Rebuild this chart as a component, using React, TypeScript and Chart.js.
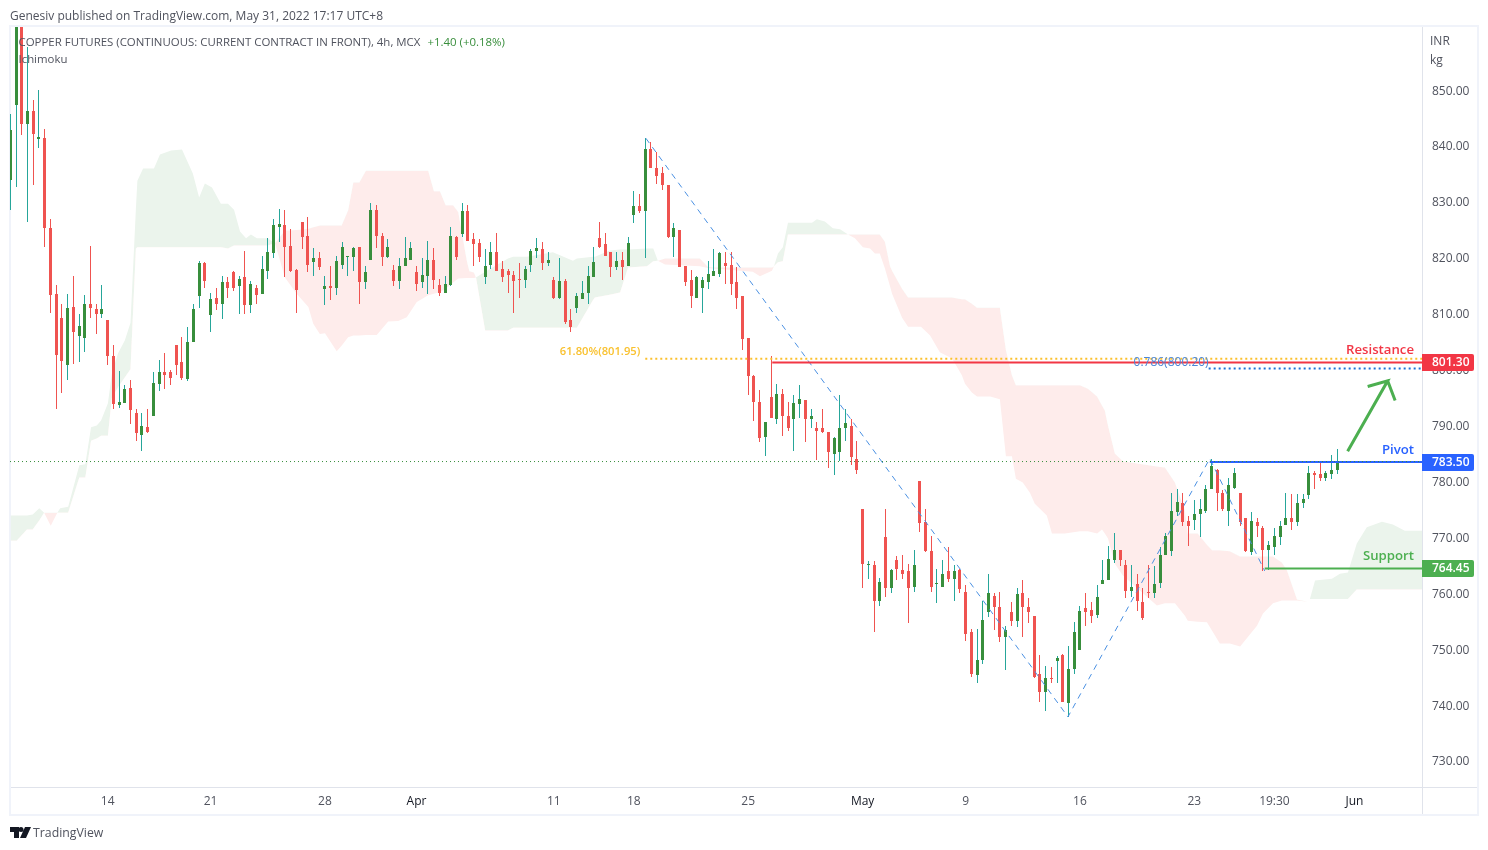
import { useEffect, useRef } from "react";
import { Chart, registerables } from "chart.js";

Chart.register(...registerables);

const FONT = '"Open Sans", sans-serif';

const opens = [
  834.0,847.4,866,843.9,846.2,841.2,841.5,825.4,813.5,809.3,
  800.9,811.3,806.1,805.6,811.8,810.9,809.9,808.8,802.5,793.6,
  794.1,796.8,792.3,788.4,789.8,791.8,797.5,799.5,799.5,804.5,
  801.3,798.4,804.9,813.1,819.0,809.7,812.9,811.8,815.6,817.4,
  814.9,816.5,811.5,814.7,813.6,817.7,820.8,825.6,825.8,822.2,
  817.9,826.5,824.0,819.2,819.9,814.5,814.9,814.7,818.8,820.1,
  820.1,821.9,815.6,819.7,828.5,824.0,820.1,817.9,815.8,818.5,
  819.7,817.4,815.6,816.8,819.7,815.1,813.8,815.2,823.8,824.2,
  828.3,823.3,822.6,816.5,818.8,821.1,818.1,817.6,817.0,816.3,
  816.1,818.8,821.3,821.5,819.0,816.0,812.9,815.8,808.8,811.1,
  812.7,813.8,816.5,823.5,822.4,821.0,818.3,819.7,818.5,827.6,
  829.2,828.3,839.4,836.0,835.1,833.1,823.8,824.9,818.5,816.0,
  812.9,814.7,815.6,816.8,817.2,819.0,818.8,815.6,813.1,805.6,
  798.8,794.3,787.9,795.2,791.1,795.7,791.8,791.1,793.8,794.5,
  791.1,789.6,789.5,788.8,785.0,785.2,789.5,790.0,784.1,775.0,
  765.1,765.0,758.7,770.0,760.9,765.9,764.1,763.9,761.2,780.0,
  772.7,767.5,761.8,761.2,763.9,762.6,764.1,760.3,753.0,745.3,
  748.0,756.6,759.6,757.6,752.1,756.6,755.1,760.1,757.6,756.0,
  745.6,742.4,744.9,747.8,748.9,740.3,746.4,749.9,757.3,757.1,
  756.2,761.7,762.3,766.0,767.7,765.1,760.5,761.6,758.5,760.3,
  760.1,761.9,766.8,767.5,774.6,776.2,773.0,773.2,774.1,774.8,
  778.6,782.1,778.0,774.8,778.9,778.0,773.4,767.3,772.8,771.6,
  767.8,768.2,770.0,772.3,773.4,772.8,776.2,777.5,781.6,781.3,
  780.7,781.3,782.0,
];
const highs = [
  845.7,870,872,857.8,848.2,850.0,843.0,826.9,815.2,811.8,
  813.6,816.7,809.9,813.3,822.2,811.8,815.2,808.8,804.5,799.7,
  797.2,798.2,793.0,792.3,792.9,799.5,801.8,802.9,799.9,804.5,
  805.8,807.7,811.8,819.4,819.2,813.8,814.7,816.8,816.5,817.7,
  816.8,821.3,815.9,815.2,820.4,823.6,826.9,828.7,828.5,825.1,
  818.1,826.5,827.4,821.7,821.0,816.8,818.6,820.4,822.9,820.4,
  822.0,821.9,818.5,829.9,829.4,824.5,823.3,818.8,819.9,823.8,
  822.8,818.5,819.9,823.1,821.7,816.3,816.7,825.6,824.0,829.9,
  829.4,824.5,823.3,821.5,822.9,824.4,819.4,818.1,817.6,819.0,
  818.5,821.5,823.6,822.8,821.0,816.5,819.9,816.3,810.8,813.8,
  815.9,818.5,822.0,826.5,824.5,821.1,821.1,821.0,823.8,831.9,
  831.5,841.4,840.8,839.0,836.3,833.1,826.3,824.9,818.5,817.9,
  816.7,816.5,819.4,821.5,821.0,821.0,821.0,818.3,813.1,805.6,
  799.0,796.3,790.7,802.4,797.4,796.6,794.3,795.4,797.2,794.5,
  792.9,790.7,792.9,788.8,787.9,795.4,793.0,791.1,787.2,775.0,
  765.7,765.7,762.8,775.0,764.4,766.6,766.9,765.3,767.8,780.0,
  775.0,770.3,764.4,765.9,768.2,765.0,764.3,761.4,753.7,753.7,
  758.7,763.5,760.1,760.3,754.2,758.5,761.0,762.3,759.2,756.0,
  748.9,747.0,746.9,748.7,749.2,750.5,754.8,757.8,760.0,758.4,
  761.4,765.9,768.4,770.7,767.8,765.9,765.0,763.4,761.0,765.0,
  764.8,768.2,770.7,778.0,778.6,777.9,773.9,776.6,776.8,779.3,
  784.1,782.3,778.4,780.7,782.5,778.0,773.4,774.6,773.4,772.1,
  769.4,771.6,773.0,777.9,777.7,777.7,777.7,782.7,781.8,783.4,
  781.8,784.8,785.9,
];
const lows = [
  828.5,832.6,841.9,826.5,833.0,839.6,821.9,810.2,792.9,795.9,
  798.2,801.1,801.3,803.1,809.3,806.3,809.2,800.9,792.9,793.2,
  794.1,790.2,787.3,785.5,788.6,791.8,796.1,796.5,797.2,799.1,
  798.2,797.9,804.9,811.1,814.7,806.8,810.6,809.0,812.9,814.0,
  809.9,809.9,810.2,811.7,813.6,816.3,819.9,822.8,816.5,817.4,
  810.2,821.5,817.4,816.8,817.9,811.5,812.4,813.4,818.1,816.8,
  817.7,811.7,814.4,819.7,821.7,818.6,819.9,815.0,814.5,818.5,
  819.6,814.0,814.7,813.6,814.5,813.1,813.8,815.0,819.6,823.8,
  823.1,818.6,819.2,815.4,818.1,817.6,815.6,813.8,810.2,812.9,
  814.7,817.4,819.9,817.9,818.6,812.7,812.7,808.1,806.8,810.1,
  812.7,811.7,816.5,821.7,820.4,816.5,817.9,816.0,818.5,826.2,
  828.1,819.9,836.0,833.3,832.1,823.5,820.1,818.3,815.0,811.1,
  812.9,810.2,814.5,816.7,816.5,815.4,813.3,810.9,803.6,795.4,
  790.9,787.0,784.5,791.3,790.2,788.1,789.1,785.4,791.3,787.0,
  789.5,783.9,788.6,782.5,781.1,783.6,787.3,783.0,781.4,761.0,
  762.6,753.0,757.8,759.4,760.0,762.3,762.5,754.6,760.3,771.0,
  767.3,760.3,758.2,761.2,762.1,758.7,760.1,751.5,745.1,744.0,
  747.4,755.8,753.5,751.2,746.2,754.2,753.9,752.1,754.6,744.9,
  740.6,739.0,743.9,743.9,740.5,737.9,745.5,749.9,754.2,754.6,
  755.5,761.7,762.3,765.5,764.8,759.1,759.4,756.9,755.3,759.1,
  759.2,761.0,766.8,766.6,773.9,772.1,768.4,771.4,770.0,774.4,
  778.6,774.8,774.8,772.0,778.7,772.1,767.3,766.9,770.0,764.0,
  764.1,766.9,768.6,772.3,771.4,772.0,775.3,776.9,778.7,780.0,
  780.0,780.5,781.4,
];
const closes = [
  842.8,868,844.0,846.2,842.1,841.7,825.4,813.3,802.7,801.6,
  811.1,806.7,807.9,811.8,811.1,809.9,810.9,802.5,793.8,794.3,
  796.5,792.7,788.6,790.0,788.8,797.7,799.5,799.1,798.6,800.9,
  798.6,805.0,810.9,819.0,815.8,812.7,811.8,815.6,814.7,814.7,
  816.3,811.5,815.4,813.3,818.1,821.0,825.8,826.0,822.0,817.7,
  814.3,823.8,818.8,819.9,818.3,815.0,814.7,819.4,821.9,820.3,
  821.7,815.6,817.4,828.5,824.0,820.1,821.9,815.9,818.6,819.9,
  821.7,815.4,817.0,819.7,816.1,813.8,815.4,824.0,820.1,828.3,
  823.1,822.4,820.2,818.5,821.1,817.7,816.5,816.9,815.9,816.1,
  818.1,821.3,821.7,819.0,819.7,812.9,815.8,808.6,807.7,813.1,
  813.8,816.7,819.2,822.0,820.4,818.3,819.5,818.3,822.6,829.2,
  828.3,839.4,836.0,834.6,833.1,823.8,825.4,818.3,815.6,813.1,
  816.5,816.0,817.2,817.7,820.8,818.6,815.4,812.9,805.4,798.8,
  794.3,787.7,790.7,791.3,795.7,791.8,789.6,794.1,794.8,791.1,
  791.8,789.1,788.8,785.2,787.7,789.5,790.4,784.3,782.1,765.3,
  765.3,758.7,762.1,760.9,764.1,764.3,763.4,761.0,765.0,772.5,
  767.5,761.2,761.9,763.5,762.6,763.9,760.7,752.8,745.5,748.0,
  755.3,760.1,757.6,752.1,753.5,755.1,759.9,757.5,756.6,745.1,
  742.4,744.9,744.6,748.5,740.6,746.5,753.0,756.9,756.7,756.0,
  759.4,762.3,766.2,767.7,765.9,760.5,761.2,758.7,755.5,760.0,
  761.7,766.9,770.3,774.8,776.4,772.8,772.0,774.1,775.0,778.7,
  782.7,777.9,775.0,779.3,781.6,772.8,767.5,773.0,772.1,767.7,
  768.7,770.3,772.1,773.4,772.7,776.2,776.9,781.6,781.1,780.7,
  781.6,782.1,783.4,
];

// ichimoku cloud, read at the bends of the outline
const cloudBar = [
  0,1.1,2.9,3.9,5.05,5.9,7.05,8.2,8.7,10.1,12.05,13.1,14.1,15.1,15.85,17.05,17.75,18.8,20,21,
  21.95,22.2,23.2,25.1,26.15,28.1,30,31.9,33,34,35.25,36.8,38.05,39.1,40.15,41.2,42.05,43.1,45,46.25,
  48,50.05,52.1,52.95,54.1,55,57.05,57.9,59.05,59.95,61,62.15,64.05,66.05,67.8,69.3,71.05,73.05,74.05,75.1,
  76.1,77.4,78.3,79.8,80.25,81.05,81.4,83,87,87.9,90.3,94.85,98.35,99.05,101.85,102.2,104.8,106.6,108,111.3,
  112.4,113.2,114.45,120.55,121.95,122.85,129.8,131.05,133.15,133.5,134.2,135.05,135.95,140.15,141,142.4,143.8,145.05,146.45,147.65,
  149.05,150.3,151.15,152,152.9,153.8,154.15,155.9,156.95,159.2,160.8,162.5,164.65,166.35,166.9,168.1,169,171.3,173,174.05,
  175.1,175.8,177,178.25,179.1,181.2,182.1,184.35,187,188.4,190,190.85,191.35,191.9,193.1,194.5,200.45,201.85,203.6,205.35,
  205.85,207.6,209.2,210.1,211.45,213.2,215,217.95,219,220.75,222.3,223.2,224.95,226.85,227.2,228.1,231.05,232.45,233.85,235.4,
  237.15,239.8,241.7,243.8,246.8,
];
const spanA = [
  773.9,773.9,773.9,774.1,775.2,774.4,772.1,774.4,775.2,775.5,782.9,783.1,789.7,790.0,790.9,794.0,799.3,802.9,805.2,808.4,
  829.0,833.8,836.0,836.0,838.5,839.2,839.4,835.1,830.8,833.3,832.6,829.7,829.7,828.6,824.7,823.5,824.2,823.5,823.5,822.6,
  816.5,813.6,811.2,808.2,806.4,806.5,803.3,804.3,805.8,806.1,806.1,806.2,806.2,808.6,808.7,809.4,812.1,813.3,813.6,813.9,
  814.5,815.6,816.3,816.4,816.4,816.4,816.5,817.5,819.9,820.2,820.2,821.0,819.5,819.9,820.2,820.2,821.3,821.5,821.5,821.7,
  821.7,819.5,818.8,818.5,818.2,818.1,817.5,816.7,817.7,818.5,820.8,821.9,826.3,826.3,826.9,826.5,825.3,825.1,824.2,823.5,
  821.9,821.7,820.8,820.8,818.1,814.9,813.6,809.3,807.7,807.7,806.1,803.1,802.0,799.0,797.5,795.9,795.2,795.2,794.7,784.5,
  784.5,780.5,779.8,778.0,776.0,773.9,770.7,770.7,771.1,771.1,770.7,771.4,770.7,769.8,765.3,763.2,757.8,758.2,758.2,756.0,
  755.1,754.9,754.8,753.3,751.0,751.0,750.5,754.2,756.4,758.2,758.7,758.7,758.7,758.5,759.0,762.3,762.6,763.5,763.7,768.9,
  771.8,772.8,772.3,771.2,771.2,
];
const spanB = [
  769.4,769.4,771.4,771.4,773.0,774.4,774.4,774.4,774.4,774.4,780.7,780.7,787.3,787.7,788.2,788.2,795.0,796.8,798.6,800.1,
  821.7,821.9,821.9,821.9,821.9,821.9,821.9,821.9,821.9,821.9,821.9,821.9,821.7,822.2,822.2,822.2,822.2,822.2,822.2,822.6,
  824.9,825.0,825.2,825.5,825.8,825.8,825.8,825.8,828.5,833.5,833.5,835.6,835.6,835.6,835.6,835.6,835.6,835.6,831.9,831.9,
  829.4,829.4,828.2,819.5,817.6,817.4,816.5,807.0,807.0,807.5,807.5,807.5,807.5,807.5,812.4,812.9,813.4,813.8,818.3,818.5,
  819.4,819.5,819.9,819.9,818.4,818.3,818.3,818.3,818.3,818.5,819.2,819.4,824.2,824.2,824.2,824.2,824.2,824.2,824.2,824.2,
  824.2,824.2,824.2,824.2,822.9,818.5,817.7,814.5,812.9,812.9,812.9,812.9,812.9,812.6,812.6,811.8,811.1,811.1,811.1,803.5,
  799.0,797.2,797.2,797.2,797.2,797.2,797.2,797.2,797.2,796.6,795.2,793.6,792.7,790.0,785.0,783.6,782.7,782.5,779.8,774.8,
  770.7,770.7,768.7,767.7,767.7,767.5,766.6,766.6,766.6,766.6,765.5,764.1,758.9,758.5,759.0,759.0,759.0,759.0,759.0,760.7,
  760.7,760.7,760.7,760.7,760.7,
];

const priceTicks = [730,740,750,760,770,780,790,800,810,820,830,840,850];
const timeTickBars = [17,35,55,71,95,109,129,149,167,187,207,221,235];
const timeTickLabels = ["14","21","28","Apr","11","18","25","May","9","16","23","19:30","Jun"];
const monthLabels = ["Apr","May","Jun"];

// drawings
const zigzagBars = [111.1,184.9,209.7,219.3];
const zigzagPrices = [841.4,737.9,784.1,764.0];
const arrowBars = [233.8,240.8,237.3,240.8,242.1];
const arrowPrices = [785.4,798.0,797.0,798.0,794.5];
const lastPrice = 783.57;
const fibPrice = 801.95;
const fibStartBar = 111;
const retracePrice = 800.2;
const retraceStartBar = 209.5;
const resistancePrice = 801.3;
const resistanceStartBar = 133.2;
const pivotPrice = 783.5;
const pivotStartBar = 209.7;
const supportPrice = 764.45;
const supportStartBar = 219.3;

const firstBar = -0.07;
const lastBar = 246.8;
const UP_BODY = "#388e3c";
const UP_WICK = "#26a69a";
const DOWN = "#ef5350";
const RED = "#f23645";
const BLUE = "#2962ff";
const GREEN = "#4caf50";
const ORANGE = "#fbc02d";

const hLine = (from: number, price: number, color: string, width: number, dash: number[] = []) => ({
  type: "line" as const,
  data: [{ x: from, y: price }, { x: lastBar, y: price }],
  borderColor: color,
  borderWidth: width,
  borderDash: dash,
  pointRadius: 0,
  order: 0,
});

// snap the bars onto whole pixels, TradingView draws them crisp
const snapBars = {
  id: "snapBars",
  afterDatasetsUpdate(chart: any) {
    chart.data.datasets.forEach((ds: any, i: number) => {
      if (ds.type !== "bar") return;
      chart.getDatasetMeta(i).data.forEach((el: any) => {
        el.x = Math.floor(el.x) + 0.5;
        el.y = Math.round(el.y);
        el.base = Math.round(el.base);
        if (el.base === el.y) el.base = el.y + 1;
      });
    });
  },
};

const priceTags = [
  { price: resistancePrice, color: RED, text: "801.30", name: "Resistance" },
  { price: pivotPrice, color: BLUE, text: "783.50", name: "Pivot" },
  { price: supportPrice, color: GREEN, text: "764.45", name: "Support" },
];

const labelsPlugin = {
  id: "labels",
  afterDraw(chart: any) {
    const { ctx, scales } = chart;
    const right = chart.chartArea.right;
    ctx.save();
    ctx.textBaseline = "middle";

    // price axis labels, from the scale's own ticks
    ctx.font = `12px ${FONT}`;
    ctx.fillStyle = "#50535e";
    ctx.textAlign = "left";
    for (const t of scales.y.ticks) {
      ctx.fillText(Number(t.value).toFixed(2), right + 10, scales.y.getPixelForValue(t.value) + 1);
    }

    for (const t of priceTags) {
      const y = Math.round(scales.y.getPixelForValue(t.price));
      ctx.fillStyle = t.color;
      ctx.beginPath();
      ctx.roundRect(right, y - 8, 52, 17, [0, 2, 2, 0]);
      ctx.fill();
      ctx.font = `600 12px ${FONT}`;
      ctx.fillStyle = "#ffffff";
      ctx.textAlign = "left";
      ctx.fillText(t.text, right + 10, y + 1);
      ctx.font = `600 13.2px ${FONT}`;
      ctx.fillStyle = t.color;
      ctx.textAlign = "right";
      ctx.fillText(t.name, right - 8, y - 12);
    }
    ctx.font = `600 11.2px ${FONT}`;
    ctx.fillStyle = "#f9c12e";
    ctx.textAlign = "right";
    ctx.fillText("61.80%(801.95)", scales.x.getPixelForValue(fibStartBar) - 5, scales.y.getPixelForValue(fibPrice) - 7);
    ctx.font = `12px ${FONT}`;
    ctx.fillStyle = "#4a86d8";
    ctx.fillText("0.786(800.20)", scales.x.getPixelForValue(retraceStartBar), scales.y.getPixelForValue(retracePrice) - 6);
    ctx.restore();
  },
};

function PriceChart() {
  const canvasRef = useRef<HTMLCanvasElement | null>(null);

  useEffect(() => {
    if (!canvasRef.current) return;
    const isUp = closes.map((c, i) => c >= opens[i]);

    const chart = new Chart(canvasRef.current, {
      type: "bar",
      data: {
        datasets: [
          {
            type: "line",
            data: cloudBar.map((x, i) => ({ x, y: spanA[i] })),
            borderWidth: 0,
            pointRadius: 0,
            tension: 0,
            fill: { target: "+1", above: "#ebf4ec", below: "#feeceb" },
            order: 5,
          },
          {
            type: "line",
            data: cloudBar.map((x, i) => ({ x, y: spanB[i] })),
            borderWidth: 0,
            pointRadius: 0,
            tension: 0,
            fill: false,
            order: 5,
          },
          {
            type: "bar",
            data: highs.map((h, i) => ({ x: i, y: [lows[i], h] })),
            backgroundColor: isUp.map((u) => (u ? UP_WICK : DOWN)),
            barThickness: 1,
            grouped: false,
            inflateAmount: 0,
            order: 3,
          },
          {
            type: "bar",
            data: opens.map((o, i) => ({ x: i, y: [Math.min(o, closes[i]), Math.max(o, closes[i])] })),
            backgroundColor: isUp.map((u) => (u ? UP_BODY : DOWN)),
            barThickness: 3,
            grouped: false,
            inflateAmount: 0,
            order: 2,
          },
          {
            type: "line",
            data: zigzagBars.map((x, i) => ({ x, y: zigzagPrices[i] })),
            borderColor: "#4a90e2",
            borderWidth: 1,
            borderDash: [6, 5],
            pointRadius: 0,
            order: 1,
          },
          hLine(firstBar, lastPrice, UP_BODY, 1, [1, 3]),
          hLine(fibStartBar, fibPrice, ORANGE, 2, [2, 3]),
          hLine(retraceStartBar, retracePrice, "#1e73d8", 2, [2, 3]),
          hLine(resistanceStartBar, resistancePrice, RED, 2),
          hLine(pivotStartBar, pivotPrice, BLUE, 2),
          hLine(supportStartBar, supportPrice, GREEN, 2),
          {
            type: "line",
            data: arrowBars.map((x, i) => ({ x, y: arrowPrices[i] })),
            borderColor: GREEN,
            borderWidth: 3,
            pointRadius: 0,
            order: 0,
          },
        ] as any,
      },
      options: {
        responsive: false,
        devicePixelRatio: 1,
        animation: false,
        events: [],
        layout: { padding: { left: 10, top: 27, right: 10, bottom: 35 } },
        plugins: { legend: { display: false }, tooltip: { enabled: false } },
        scales: {
          x: {
            type: "linear",
            offset: false,
            min: firstBar,
            max: lastBar,
            grid: { display: false, drawTicks: false },
            border: { display: false },
            afterFit: (axis: any) => { axis.height = 28; },
            afterBuildTicks: (axis: any) => { axis.ticks = timeTickBars.map((value) => ({ value })); },
            ticks: {
              autoSkip: false,
              maxRotation: 0,
              padding: 7,
              font: { family: FONT, size: 12 },
              color: (ctx: any) => (monthLabels.includes(ctx.tick.label) ? "#131722" : "#50535e"),
              callback: (_v: any, i: number) => timeTickLabels[i],
            },
          },
          y: {
            position: "right",
            min: 725.35,
            max: 861.3,
            grid: { display: false, drawTicks: false },
            border: { display: false },
            afterFit: (axis: any) => { axis.width = 56; },
            afterBuildTicks: (axis: any) => { axis.ticks = priceTicks.map((value) => ({ value })); },
            ticks: { display: false },
          },
        },
      },
      plugins: [snapBars, labelsPlugin],
    } as any);

    return () => {
      chart.destroy();
    };
  }, []);

  return <canvas ref={canvasRef} width={1488} height={850} style={{ position: "absolute", left: 0, top: 0 }} />;
}

const text = (left: number, top: number, color = "#50535e", size = 12) => ({
  position: "absolute" as const,
  left,
  top,
  color,
  font: `${size}px/16px ${FONT}`,
  whiteSpace: "nowrap" as const,
});

export default function App() {
  return (
    <div style={{ position: "absolute", left: 0, top: 0, width: 1488, height: 850, background: "#fff", overflow: "hidden" }}>
      <div style={{ position: "absolute", left: 9, top: 25, width: 1466, height: 787, border: "2px solid #f0f3fa" }} />
      <div style={{ position: "absolute", left: 1422, top: 27, width: 1, height: 787, background: "#e0e3eb" }} />
      <div style={{ position: "absolute", left: 11, top: 787, width: 1466, height: 1, background: "#e0e3eb" }} />
      <PriceChart />
      <div style={text(10, 8)}>Genesiv published on TradingView.com, May 31, 2022 17:17 UTC+8</div>
      <div style={text(18.5, 34, "#50535e", 11.45)}>
        COPPER FUTURES (CONTINUOUS: CURRENT CONTRACT IN FRONT), 4h, MCX{" "}
        <span style={{ color: "#388e3c", marginLeft: 4 }}>+1.40 (+0.18%)</span>
      </div>
      <div style={text(18.5, 51, "#50535e", 11.4)}>Ichimoku</div>
      <div style={text(1430, 33)}>INR</div>
      <div style={text(1430, 52)}>kg</div>
      <svg width="21" height="11" viewBox="0 0 21 11" style={{ position: "absolute", left: 10, top: 827 }}>
        <path d="M0 0h9v11H4V5H0z M11 0a2.5 2.5 0 1 1 0 5a2.5 2.5 0 0 1 0-5z M15 0h6l-5 11h-6z" fill="#131722" />
      </svg>
      <div style={text(33, 825, "#50535e", 12.3)}>TradingView</div>
    </div>
  );
}
